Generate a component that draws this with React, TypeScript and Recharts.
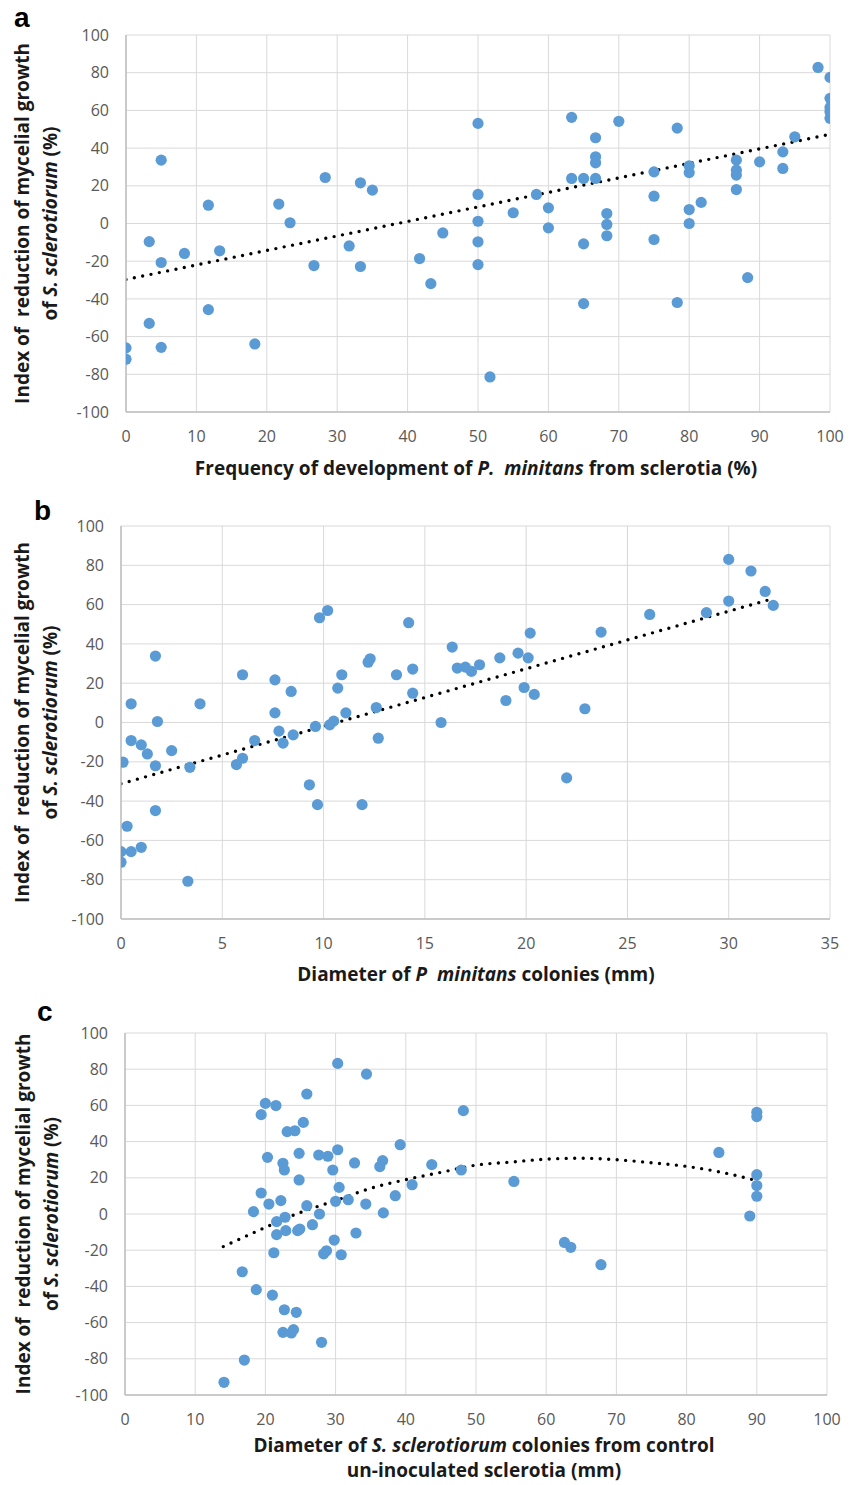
import {
  CartesianGrid,
  ComposedChart,
  Line,
  Scatter,
  XAxis,
  YAxis,
} from "recharts";

// (a) frequency of P. minitans development from sclerotia (%)
const freqA = [
  0, 0, 3.3, 3.3, 5, 5, 5, 8.3, 11.7, 11.7, 13.3, 18.3, 21.7, 23.3, 26.7, 28.3, 31.7, 33.3, 33.3, 35,
  41.7, 43.3, 45, 50, 50, 50, 50, 50, 51.7, 55, 58.3, 60, 60, 63.3, 63.3, 65, 65, 65, 66.7, 66.7,
  66.7, 66.7, 68.3, 68.3, 68.3, 70, 75, 75, 75, 78.3, 78.3, 80, 80, 80, 80, 81.7, 86.7, 86.7, 86.7, 86.7,
  88.3, 90, 93.3, 93.3, 95, 98.3, 100, 100, 100, 100, 100,
];
const indexA = [
  -66, -72, -9.6, -53, 33.6, -20.7, -65.7, -15.9, 9.7, -45.7, -14.5, -63.9, 10.3, 0.4, -22.3, 24.4, -11.9, 21.6, -22.8, 17.7,
  -18.6, -31.9, -5, 53.1, 15.4, 1.2, -9.7, -21.8, -81.4, 5.7, 15.4, 8.3, -2.3, 56.3, 23.9, 23.9, -10.8, -42.5, 45.5, 35.4,
  32.2, 23.9, 5.3, -0.5, -6.5, 54.2, 27.4, 14.5, -8.5, 50.6, -41.9, 30.6, 27, 7.4, 0, 11.2, 33.6, 28.3, 25.7, 18,
  -28.7, 32.7, 38, 29.2, 46, 82.8, 77.5, 66.4, 61.6, 59.3, 55.8,
];
const trendAX = [0, 100];
const trendAY = [-29.7, 47.3];
const ticksA = [0, 10, 20, 30, 40, 50, 60, 70, 80, 90, 100];

// (b) diameter of P. minitans colonies (mm)
const diamB = [
  0, 0, 0.1, 0.5, 0.5, 0.5, 0.3, 1.0, 1.3, 1.0, 1.7, 1.8, 1.7, 1.7, 2.5, 3.3, 3.4, 3.9, 5.7, 6.0,
  6.0, 6.6, 7.6, 7.6, 7.8, 8.0, 8.4, 8.5, 9.3, 9.7, 9.6, 9.8, 10.2, 10.3, 10.5, 10.7, 10.9, 11.1, 11.9, 12.2,
  12.3, 12.6, 12.7, 13.6, 14.2, 14.4, 14.4, 15.8, 16.35, 16.6, 17.0, 17.3, 17.7, 18.7, 19.6, 20.1, 20.2, 19.9, 20.4, 19.0,
  22.0, 22.9, 23.7, 26.1, 28.9, 30.0, 30.0, 31.1, 31.8, 32.2,
];
const indexB = [
  -65.7, -71.1, -20.2, 9.5, -9.2, -65.7, -52.8, -11.4, -16, -63.5, 33.8, 0.5, -22, -44.8, -14.3, -80.8, -22.8, 9.5, -21.4, -18.2,
  24.3, -9.2, 21.7, 4.9, -4.4, -10.5, 15.8, -6.3, -31.7, -41.8, -2, 53.3, 57, -1.2, 0.7, 17.5, 24.3, 4.9, -41.8, 30.7,
  32.4, 7.6, -8, 24.3, 50.8, 27.2, 14.9, 0, 38.4, 27.7, 28.2, 26, 29.4, 32.9, 35.3, 32.9, 45.5, 17.8, 14.3, 11.2,
  -28.2, 7, 46, 55, 55.9, 61.8, 83, 77.1, 66.7, 59.6,
];
const trendBX = [0, 32];
const trendBY = [-31.2, 62.5];
const ticksB = [0, 5, 10, 15, 20, 25, 30, 35];

// (c) diameter of S. sclerotiorum colonies from control sclerotia (mm)
const diamC = [
  14.1, 17.0, 16.7, 18.7, 18.3, 19.4, 19.4, 20.0, 20.3, 20.5, 21.0, 21.2, 21.5, 21.6, 22.2, 21.6, 22.5, 22.7, 22.7, 22.5,
  23.7, 24.0, 22.8, 22.9, 23.1, 24.2, 24.4, 24.6, 24.9, 24.8, 24.8, 25.4, 25.9, 25.9, 26.7, 27.6, 27.7, 28.9, 28.0, 28.3,
  28.7, 29.6, 29.8, 30.0, 30.3, 30.3, 30.5, 30.8, 31.8, 32.7, 32.9, 34.4, 34.3, 36.3, 36.7, 36.8, 38.5, 39.2, 40.9, 43.7,
  48.2, 47.9, 55.4, 62.6, 63.5, 67.8, 84.6, 90, 90, 90, 90, 90, 89,
];
const indexC = [
  -93, -80.7, -31.9, -41.8, 1.3, 11.6, 54.9, 61.1, 31.3, 5.5, -44.8, -21.4, 59.9, -11.4, 7.4, -4.2, 28, 24.3, -52.9, -65.4,
  -65.7, -63.9, -1.8, -9.2, 45.5, 46, -54.3, -9.2, -8.3, 33.5, 18.8, 50.6, 66.3, 4.6, -5.9, 32.6, 0, 31.9, -70.9, -22,
  -20.3, 24.3, -14.4, 7, 35.5, 83.2, 14.7, -22.5, 7.9, 28.2, -10.5, 77.3, 5.5, 26.2, 29.5, 0.6, 10.1, 38.3, 16.2, 27.3,
  57.1, 24.3, 18, -15.7, -18.4, -28, 34, 56.2, 53.8, 21.7, 15.7, 9.8, -1.1,
];
// polynomial trendline
const trendCX = [14, 20, 25, 30, 35, 40, 45, 50, 55, 60, 65, 70, 75, 80, 85, 90];
const trendCY = [-18, -7.4, 0.9, 7.4, 14.2, 19, 23, 27, 28.7, 30.3, 30.8, 30, 28.3, 26.3, 23, 18.4];
const ticksC = ticksA;

const indexTicks = [-100, -80, -60, -40, -20, 0, 20, 40, 60, 80, 100];

const FONT = "'Open Sans', 'Noto Sans', sans-serif";
const DOT = "#5b9bd5";
const tickStyle = { fill: "#595959", fontSize: 16, fontFamily: FONT };
const titleStyle = { fontFamily: FONT, fontWeight: 700, fontSize: 19, fill: "#1a1a1a", whiteSpace: "pre" as const };

const zip = (xs: number[], ys: number[]) => xs.map((x, i) => ({ x, y: ys[i] }));

const dotShape = (props: any) => <circle cx={props.cx} cy={props.cy} r={5.6} fill={DOT} />;

type PanelProps = {
  top: number;
  height: number;
  plot: { left: number; right: number; top: number; bottom: number };
  xMax: number;
  xTicks: number[];
  points: { x: number; y: number }[];
  trend: { x: number; y: number }[];
  letter: string;
  letterPos: [number, number];
  yTitleX: [number, number];
  xTitle: React.ReactNode;
};

function Panel({ top, height, plot, xMax, xTicks, points, trend, letter, letterPos, yTitleX, xTitle }: PanelProps) {
  const cy = (plot.top + plot.bottom) / 2;
  const yTitle = () => (
    <g>
      <text x={letterPos[0]} y={letterPos[1]} style={{ fontFamily: "'Liberation Sans', Arial, sans-serif", fontWeight: 700, fontSize: 28 }}>
        {letter}
      </text>
      <text
        x={yTitleX[0]}
        y={cy}
        textAnchor="middle"
        dominantBaseline="central"
        transform={`rotate(-90 ${yTitleX[0]} ${cy})`}
        style={titleStyle}
      >
        Index of  reduction of mycelial growth
      </text>
      <text
        x={yTitleX[1]}
        y={cy}
        textAnchor="middle"
        dominantBaseline="central"
        transform={`rotate(-90 ${yTitleX[1]} ${cy})`}
        style={titleStyle}
      >
        of <tspan fontStyle="italic">S. sclerotiorum</tspan> (%)
      </text>
    </g>
  );

  return (
    <div style={{ position: "absolute", left: 0, top }}>
      <ComposedChart
        width={857}
        height={height}
        margin={{ top: plot.top, right: 857 - plot.right, bottom: 0, left: 0 }}
      >
        <CartesianGrid stroke="#d9d9d9" />
        <XAxis
          type="number"
          dataKey="x"
          domain={[0, xMax]}
          ticks={xTicks}
          allowDataOverflow
          height={height - plot.bottom}
          tick={tickStyle}
          tickLine={false}
          tickMargin={13}
          stroke="#bfbfbf"
          strokeWidth={1.5}
          label={{ content: () => xTitle }}
        />
        <YAxis
          type="number"
          dataKey="y"
          domain={[-100, 100]}
          ticks={indexTicks}
          width={plot.left}
          tick={tickStyle}
          tickLine={false}
          tickMargin={11}
          stroke="#bfbfbf"
          strokeWidth={1.5}
          label={{ content: yTitle }}
        />
        <Scatter data={points} shape={dotShape} isAnimationActive={false} />
        <Line
          data={trend}
          dataKey="y"
          type="monotone"
          stroke="#000"
          strokeWidth={3.4}
          strokeDasharray="0 8.5"
          strokeLinecap="round"
          dot={false}
          activeDot={false}
          isAnimationActive={false}
        />
      </ComposedChart>
    </div>
  );
}

export default function App() {
  return (
    <div style={{ position: "absolute", left: 0, top: 0, width: 857, height: 1485, background: "#fff" }}>
      <Panel
        top={0}
        height={490}
        plot={{ left: 126, right: 830, top: 35, bottom: 412 }}
        xMax={100}
        xTicks={ticksA}
        points={zip(freqA, indexA)}
        trend={zip(trendAX, trendAY)}
        letter="a"
        letterPos={[14, 27]}
        yTitleX={[22, 50]}
        xTitle={
          <text x={476} y={475} textAnchor="middle" style={titleStyle}>
            Frequency of development of <tspan fontStyle="italic">P.  minitans</tspan> from sclerotia (%)
          </text>
        }
      />
      <Panel
        top={490}
        height={500}
        plot={{ left: 121, right: 830, top: 36, bottom: 429 }}
        xMax={35}
        xTicks={ticksB}
        points={zip(diamB, indexB)}
        trend={zip(trendBX, trendBY)}
        letter="b"
        letterPos={[34, 30]}
        yTitleX={[22, 50]}
        xTitle={
          <text x={476} y={491} textAnchor="middle" style={titleStyle}>
            Diameter of <tspan fontStyle="italic">P  minitans</tspan> colonies (mm)
          </text>
        }
      />
      <Panel
        top={990}
        height={495}
        plot={{ left: 125, right: 827, top: 43, bottom: 405 }}
        xMax={100}
        xTicks={ticksC}
        points={zip(diamC, indexC)}
        trend={zip(trendCX, trendCY)}
        letter="c"
        letterPos={[37, 31]}
        yTitleX={[23, 51]}
        xTitle={
          <text x={484} y={462} textAnchor="middle" style={titleStyle}>
            <tspan x={484}>
              Diameter of <tspan fontStyle="italic">S. sclerotiorum</tspan> colonies from control
            </tspan>
            <tspan x={484} dy={25}>
              un-inoculated sclerotia (mm)
            </tspan>
          </text>
        }
      />
    </div>
  );
}
